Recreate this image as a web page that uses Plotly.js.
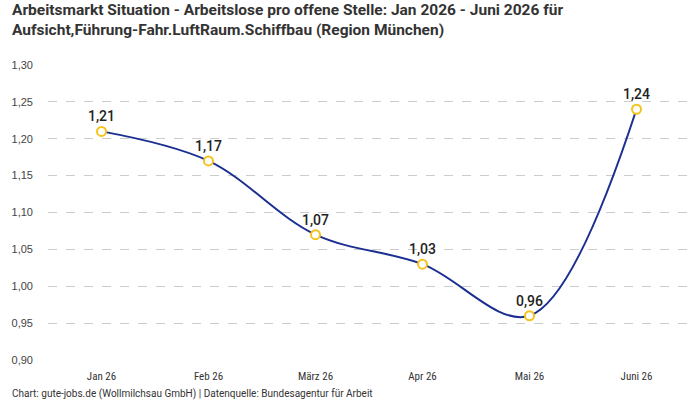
<!DOCTYPE html>
<html>
<head>
<meta charset="utf-8">
<script src="https://cdn.plot.ly/plotly-3.0.1.min.js"></script>
<style>
  html, body { margin: 0; padding: 0; background: #fff; }
  #chart { width: 700px; height: 400px; }
</style>
</head>
<body>
<div id="chart"></div>
<script>
// Monthly ratio: unemployed persons per open position
const months = ['Jan 26', 'Feb 26', 'März 26', 'Apr 26', 'Mai 26', 'Juni 26'];
const ratio = [1.21, 1.17, 1.07, 1.03, 0.96, 1.24];
const yTicks = [0.90, 0.95, 1.00, 1.05, 1.10, 1.15, 1.20, 1.25, 1.30];

const titleText = 'Arbeitsmarkt Situation - Arbeitslose pro offene Stelle: Jan 2026 - Juni 2026 für<br>Aufsicht,Führung-Fahr.LuftRaum.Schiffbau (Region München)';
const footerText = 'Chart: gute-jobs.de (Wollmilchsau GmbH) | Datenquelle: Bundesagentur für Arbeit';

const trace = {
  x: months,
  y: ratio,
  type: 'scatter',
  mode: 'lines+markers+text',
  line: { color: '#1b2f91', width: 2, shape: 'spline', smoothing: 1 },
  marker: { size: 9, color: '#ffffff', line: { color: '#f6c21c', width: 2 } },
  text: ratio.map(v => v.toFixed(2).replace('.', ',')),
  textposition: 'top center',
  textfont: { family: 'Roboto, sans-serif', size: 14, color: '#222', weight: 500 },
  cliponaxis: false,
  hoverinfo: 'skip'
};

// plot area spans 642 x 295 px; paper offsets below are in those units
const W = 642, H = 295;

const layout = {
  width: 700,
  height: 400,
  margin: { l: 48, r: 10, t: 65, b: 40 },
  paper_bgcolor: '#ffffff',
  plot_bgcolor: '#ffffff',
  separators: ',.',
  showlegend: false,
  xaxis: {
    type: 'category',
    range: [-0.5, 5.5],
    showgrid: false,
    zeroline: false,
    showline: false,
    ticks: '',
    ticklabelstandoff: 8,
    tickfont: { family: 'Roboto Condensed, Roboto, sans-serif', size: 11, color: '#333' },
    fixedrange: true
  },
  yaxis: {
    range: [0.9, 1.3],
    tickvals: yTicks,
    tickformat: '.2f',
    showgrid: true,
    gridcolor: '#cccccc',
    griddash: 'dash',
    gridwidth: 1,
    zeroline: false,
    showline: false,
    ticks: '',
    ticklabelstandoff: 14,
    tickfont: { family: 'Liberation Sans, Arial, sans-serif', size: 11, color: '#444' },
    fixedrange: true
  },
  annotations: [
    {
      text: '<b>' + titleText + '</b>',
      xref: 'paper', yref: 'paper',
      x: -38 / W, y: 1 + 66 / H,
      xanchor: 'left', yanchor: 'top', align: 'left',
      showarrow: false,
      font: { family: 'Roboto, sans-serif', size: 15.5, color: '#333' }
    },
    {
      text: footerText,
      xref: 'paper', yref: 'paper',
      x: -38 / W, y: -26 / H,
      xanchor: 'left', yanchor: 'top',
      showarrow: false,
      font: { family: 'Roboto, sans-serif', size: 10, color: '#333' }
    }
  ]
};

Plotly.newPlot('chart', [trace], layout, { displayModeBar: false, staticPlot: true });
</script>
</body>
</html>
